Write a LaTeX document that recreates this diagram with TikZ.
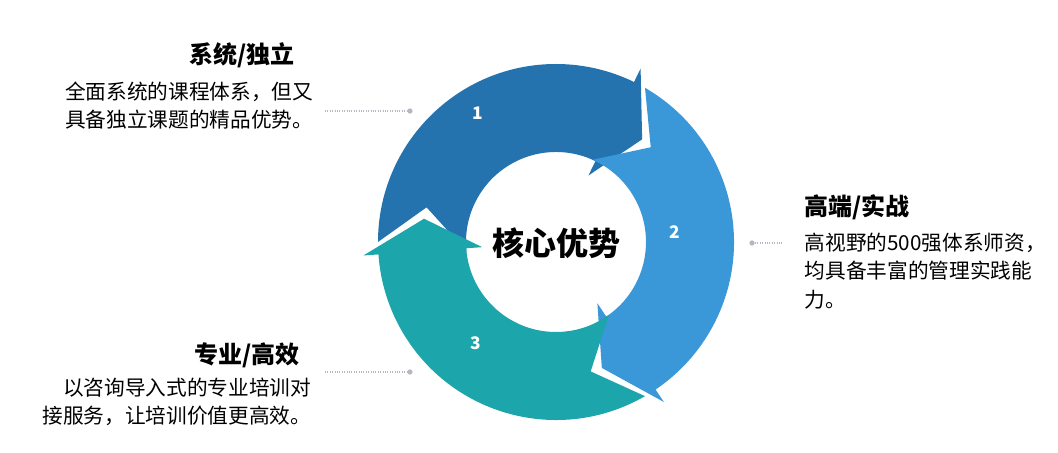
\documentclass[tikz,border=0pt]{standalone}
\usepackage{fontspec}
\setmainfont{Noto Sans CJK SC}
\usepackage{tikz}
\definecolor{arrowA}{HTML}{2473AE}
\definecolor{arrowB}{HTML}{3A97D8}
\definecolor{arrowC}{HTML}{1CA5AA}
\definecolor{leader}{HTML}{B4B8C4}
\tikzset{
  headtext/.style={font=\fontsize{18}{22}\selectfont\bfseries},
  bodytext/.style={font=\fontsize{15.5}{21.5}\selectfont},
  numtext/.style={font=\fontsize{13}{15}\selectfont\bfseries, text=white},
  leaderline/.style={leader, densely dotted, line width=0.8pt},
  leaderdot/.style={circle, fill=leader, inner sep=1.4pt}
}
% one ring arrow: #1 colour, #2 base angle of previous head, #3 base angle of own head
\newcommand{\ringarrow}[3]{%
  \fill[#1] (#2-4:178) arc[start angle=#2-4, end angle=#3, radius=178]
    -- (#3:193) -- (#3-14:134) -- (#3:74) -- (#3:90)
    arc[start angle=#3, end angle=#2+2, radius=90]
    -- (#2-19:134) -- cycle;}
\begin{document}
\begin{tikzpicture}[x=0.75pt, y=0.75pt]

    \useasboundingbox (0, 0) rectangle (1058, 453);

    \begin{scope}[shift={(556, 211)}]
      \ringarrow{arrowA}{184}{64}
      \ringarrow{arrowB}{64}{-56}
      \ringarrow{arrowC}{-56}{-176}
    \end{scope}

    \node (core) at (556, 210) {\fontsize{24}{28}\selectfont\bfseries 核心优势};
    \node[numtext] (n1) at (478, 340) {1};
    \node[numtext] (n2) at (675, 221) {2};
    \node[numtext] (n3) at (476, 110) {3};

    \node[headtext, anchor=east] (h1) at (299, 398) {系统/独立};
    \node[bodytext, anchor=north east, align=right] (b1) at (318, 376) {全面系统的课程体系，但又\\具备独立课题的精品优势。};
    \node[headtext, anchor=west] (h2) at (800, 246) {高端/实战};
    \node[bodytext, anchor=north west, align=left] (b2) at (800, 225) {高视野的500强体系师资，\\均具备丰富的管理实践能\\力。};
    \node[headtext, anchor=east] (h3) at (304, 98) {专业/高效};
    \node[bodytext, anchor=north east, align=right] (b3) at (316, 80) {以咨询导入式的专业培训对\\接服务，让培训价值更高效。};

    \coordinate (l1a) at (325, 342);
    \node[leaderdot] (d1) at (410, 342) {};
    \node[leaderdot] (d2) at (752, 210) {};
    \coordinate (l2b) at (782, 210);
    \coordinate (l3a) at (325, 81);
    \node[leaderdot] (d3) at (410, 81) {};

    \draw[leaderline] (l1a) -- (d1);
    \draw[leaderline] (d2) -- (l2b);
    \draw[leaderline] (l3a) -- (d3);

  \end{tikzpicture}
\end{document}
